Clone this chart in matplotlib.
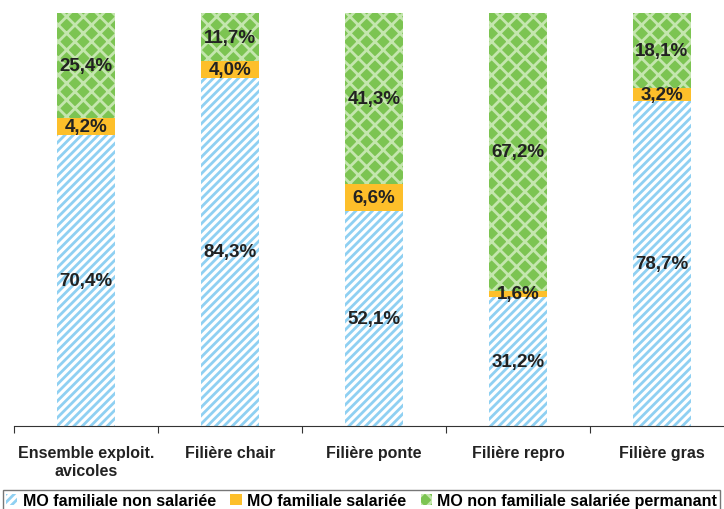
import numpy as np
import matplotlib
matplotlib.use("Agg")
from matplotlib import pyplot as plt
from matplotlib.patches import Patch

plt.rcParams['font.family'] = ['Liberation Sans', 'DejaVu Sans']
plt.rcParams['hatch.linewidth'] = 2.0

categories = ["Ensemble exploit.\navicoles", "Filière chair", "Filière ponte", "Filière repro", "Filière gras"]
mo_fam_non_sal = [70.4, 84.3, 52.1, 31.2, 78.7]
mo_fam_sal = [4.2, 4.0, 6.6, 1.6, 3.2]
mo_non_fam = [25.4, 11.7, 41.3, 67.2, 18.1]
labels_non_sal = ["70,4%", "84,3%", "52,1%", "31,2%", "78,7%"]
labels_sal = ["4,2%", "4,0%", "6,6%", "1,6%", "3,2%"]
labels_non_fam = ["25,4%", "11,7%", "41,3%", "67,2%", "18,1%"]
series_names = ["MO familiale non salariée", "MO familiale salariée", "MO non familiale salariée permanant"]

blue = '#8fd0f2'
orange = '#fdbf2a'
green = '#7cc452'

fig = plt.figure(figsize=(7.24, 5.10), dpi=100)
ax = fig.add_axes([14 / 724, 83 / 510, 720 / 724, 413 / 510])

x = np.arange(len(categories))
w = 0.4
b1 = np.array(mo_fam_non_sal)
b2 = b1 + np.array(mo_fam_sal)

ax.bar(x, mo_fam_non_sal, w, color='white', edgecolor=blue, hatch='////', linewidth=0)
ax.bar(x, mo_fam_sal, w, bottom=b1, color=orange, linewidth=0)
ax.bar(x, mo_non_fam, w, bottom=b2, color=green, edgecolor='#c4e6ae', hatch='xx', linewidth=0)

lab_kw = dict(ha='center', va='center', fontsize=13.5, fontweight='bold', color='#222222')
for i in range(len(categories)):
    ax.text(x[i], b1[i] / 2, labels_non_sal[i], **lab_kw)
    ax.text(x[i], b1[i] + mo_fam_sal[i] / 2, labels_sal[i], **lab_kw)
    ax.text(x[i], b2[i] + mo_non_fam[i] / 2, labels_non_fam[i], **lab_kw)

ax.set_xlim(-0.5, len(categories) - 0.5)
ax.set_ylim(0, 100)
for s in ['top', 'right', 'left']:
    ax.spines[s].set_visible(False)
ax.spines['bottom'].set_color('#333333')
ax.set_yticks([])
ax.set_xticks(np.arange(len(categories) + 1) - 0.5, minor=False)
ax.set_xticklabels([])
ax.tick_params(axis='x', length=5, color='#333333', direction='out')
ax.set_xticks(x, minor=True)
ax.set_xticklabels(categories, minor=True, fontsize=11.5, fontweight='bold', color='#222222')
ax.tick_params(axis='x', which='minor', length=0, pad=14)

handles = [Patch(facecolor='white', edgecolor=blue, hatch='////', linewidth=0),
           Patch(facecolor=orange, linewidth=0),
           Patch(facecolor=green, edgecolor='#c4e6ae', hatch='xx', linewidth=0)]
leg = fig.legend(handles, series_names, loc='lower left', bbox_to_anchor=(0.004, -0.004), ncol=3,
                 prop={'weight': 'bold', 'size': 11.5}, frameon=True, fancybox=False,
                 handlelength=0.7, handleheight=0.7, handletextpad=0.35, columnspacing=0.9,
                 borderpad=0.2, borderaxespad=0)
leg.get_frame().set_edgecolor('#555555')
leg.get_frame().set_linewidth(1.0)

fig.savefig('out.png', dpi=100)
